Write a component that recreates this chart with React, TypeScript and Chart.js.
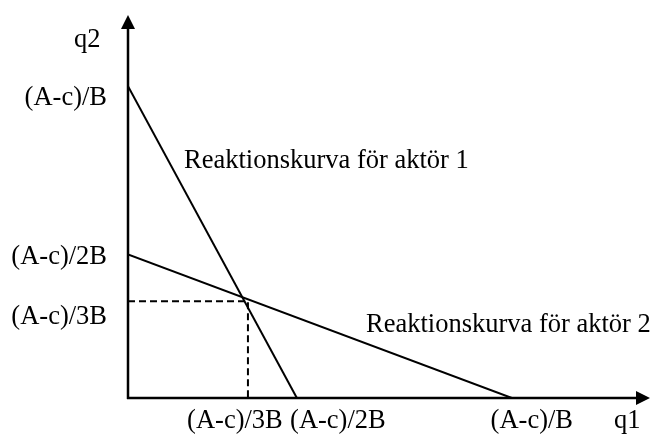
import React, { useEffect, useRef } from "react";
import { Chart, registerables } from "chart.js";

Chart.register(...registerables);

// Quantities are expressed in units of (A-c)/B.
const reaction1Q1 = [0, 0.44];
const reaction1Q2 = [1.0, 0];
const reaction2Q1 = [0, 1.0];
const reaction2Q2 = [0.46, 0];
const equilibriumQ1 = 0.3125;
const equilibriumQ2 = 0.31;

const yTickValues = [1.0, 0.46, 0.31];
const yTickLabels = ["(A-c)/B", "(A-c)/2B", "(A-c)/3B"];
const xTickValues = [0.3125, 0.44, 1.0];
const xTickLabels = ["(A-c)/3B", "(A-c)/2B", "(A-c)/B"];
const curveLabels = ["Reaktionskurva för aktör 1", "Reaktionskurva för aktör 2"];
const axisTitles = { x: "q1", y: "q2" };

const FONT = "26.5px 'Liberation Serif', 'Times New Roman', serif";

const toPoints = (xs: number[], ys: number[]) => xs.map((x, i) => ({ x, y: ys[i] }));

// Axes with arrow heads plus all the text of the diagram.
const diagramPlugin = {
  id: "diagram",
  afterDatasetsDraw(chart: any) {
    const { ctx, chartArea, scales } = chart;
    const xs = scales.x;
    const ys = scales.y;
    const ox = xs.getPixelForValue(0);
    const oy = ys.getPixelForValue(0);
    const right = chartArea.right;
    const top = chartArea.top;
    const head = 14;
    const half = 7;

    ctx.save();
    ctx.strokeStyle = "#000";
    ctx.fillStyle = "#000";
    ctx.lineWidth = 2.5;
    ctx.setLineDash([]);

    // q2 axis
    ctx.beginPath();
    ctx.moveTo(ox, oy + 1);
    ctx.lineTo(ox, top + head);
    ctx.stroke();
    ctx.beginPath();
    ctx.moveTo(ox, top);
    ctx.lineTo(ox - half, top + head);
    ctx.lineTo(ox + half, top + head);
    ctx.closePath();
    ctx.fill();

    // q1 axis
    ctx.beginPath();
    ctx.moveTo(ox - 1, oy);
    ctx.lineTo(right - head, oy);
    ctx.stroke();
    ctx.beginPath();
    ctx.moveTo(right, oy);
    ctx.lineTo(right - head, oy - half);
    ctx.lineTo(right - head, oy + half);
    ctx.closePath();
    ctx.fill();

    ctx.font = FONT;
    ctx.textBaseline = "alphabetic";

    // q2 tick labels, right-aligned left of the axis
    const yShift = [19, 9, 23];
    ctx.textAlign = "right";
    yTickValues.forEach((v, i) => {
      ctx.fillText(yTickLabels[i], ox - 21, ys.getPixelForValue(v) + yShift[i]);
    });

    // q1 tick labels below the axis
    const xShift = [-13, 41, 20];
    ctx.textAlign = "center";
    xTickValues.forEach((v, i) => {
      ctx.fillText(xTickLabels[i], xs.getPixelForValue(v) + xShift[i], oy + 30);
    });

    // axis titles
    ctx.textAlign = "left";
    ctx.fillText(axisTitles.x, right - 36, oy + 30);
    ctx.fillText(axisTitles.y, ox - 54, top + 32);

    // curve labels
    ctx.fillText(curveLabels[0], ox + 56, top + 153);
    ctx.fillText(curveLabels[1], ox + 238, oy - 66);

    ctx.restore();
  },
};

export default function App() {
  const canvasRef = useRef<HTMLCanvasElement | null>(null);

  useEffect(() => {
    if (!canvasRef.current) return;
    const chart = new Chart(canvasRef.current, {
      type: "scatter",
      data: {
        datasets: [
          {
            label: curveLabels[0],
            data: toPoints(reaction1Q1, reaction1Q2),
            showLine: true,
            borderColor: "#000",
            borderWidth: 2,
            pointRadius: 0,
          },
          {
            label: curveLabels[1],
            data: toPoints(reaction2Q1, reaction2Q2),
            showLine: true,
            borderColor: "#000",
            borderWidth: 2,
            pointRadius: 0,
          },
          {
            label: "Jämvikt",
            data: [
              { x: 0, y: equilibriumQ2 },
              { x: equilibriumQ1, y: equilibriumQ2 },
              { x: equilibriumQ1, y: 0 },
            ],
            showLine: true,
            borderColor: "#000",
            borderWidth: 2,
            borderDash: [7, 4],
            pointRadius: 0,
          },
        ],
      },
      options: {
        responsive: false,
        animation: false,
        devicePixelRatio: 1,
        layout: { padding: { left: 128, top: 15, right: 2, bottom: 39 } },
        plugins: { legend: { display: false }, tooltip: { enabled: false } },
        scales: {
          x: { type: "linear", min: 0, max: 1.36, display: false },
          y: { type: "linear", min: 0, max: 1.228, display: false },
        },
      },
      plugins: [diagramPlugin],
    });
    return () => chart.destroy();
  }, []);

  return (
    <div style={{ position: "absolute", left: 0, top: 0, width: 652, height: 437, background: "#fff" }}>
      <canvas ref={canvasRef} width={652} height={437} />
    </div>
  );
}
